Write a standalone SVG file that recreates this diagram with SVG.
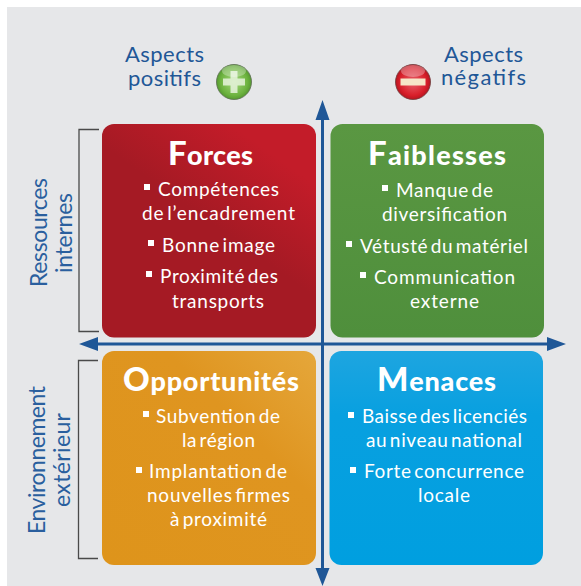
<svg xmlns="http://www.w3.org/2000/svg" width="581" height="586" viewBox="0 0 581 586">
<style>
.ax{font-family:"Lato","Liberation Sans",sans-serif;fill:#1f5797;font-size:22px}
.sd{font-family:"Lato","Liberation Sans",sans-serif;fill:#2a5f9e;font-size:23px}
.t{font-family:"Lato","Liberation Sans",sans-serif;fill:#fff;font-weight:900;font-size:27px}
.c{font-size:33px}
.b{font-family:"Lato","Liberation Sans",sans-serif;fill:#fff;font-size:19px;word-spacing:-3px}
.bu{fill:#fff}
.ln{fill:none;stroke:#1f5797;stroke-width:3}
.br{fill:none;stroke:#4a4a4a;stroke-width:1.300}
.gl{fill:#fff;opacity:.3}
</style>
<defs>
<linearGradient id="r" x1=".35" y1=".35" x2=".6" y2="0"><stop offset="0" stop-color="#a51a24"/><stop offset="1" stop-color="#c31c29"/></linearGradient>
<linearGradient id="g" x1="0" y1="0" x2="0" y2="1"><stop offset="0" stop-color="#5a9742"/><stop offset="1" stop-color="#4f8f3c"/></linearGradient>
<linearGradient id="o" x1="1" y1="0" x2="0" y2="1"><stop offset="0" stop-color="#e5a73b"/><stop offset=".35" stop-color="#df9520"/><stop offset="1" stop-color="#de941b"/></linearGradient>
<linearGradient id="u" x1="0" y1="0" x2="0" y2="1"><stop offset="0" stop-color="#1ea5e0"/><stop offset=".3" stop-color="#08a0e0"/><stop offset="1" stop-color="#009fe0"/></linearGradient>
<radialGradient id="pg" cx=".5" cy=".5" r=".55"><stop offset="0" stop-color="#a6d880"/><stop offset=".7" stop-color="#6db33f"/><stop offset="1" stop-color="#4c8f2a"/></radialGradient>
<radialGradient id="mg" cx=".5" cy=".5" r=".55"><stop offset="0" stop-color="#e8606a"/><stop offset=".7" stop-color="#d81f2a"/><stop offset="1" stop-color="#a8121c"/></radialGradient>
</defs>
<rect x="0" y="0" width="581" height="586" fill="#fff"/>
<rect x="7" y="7" width="574" height="579" fill="#e6e7e9"/>

<g id="connectors">
<path class="ln" d="M322.500 118V568"/>
<path class="ln" d="M97 344H548"/>
<path fill="#1f5797" d="M322.500 100L329.500 120H315.500ZM322.500 586L315.500 568H329.500ZM79 344L98 337V351ZM566 344L547 337V351Z"/>
<path class="br" d="M99 129.500H79V331.500H99"/>
<path class="br" d="M98 360.500H78.500V558.500H98"/>
</g>

<g id="aspects-positifs">
<text class="ax" x="125" y="62" textLength="79">Aspects</text>
<text class="ax" x="128" y="86" textLength="73">positifs</text>
<circle cx="234" cy="82" r="17.500" fill="url(#pg)" stroke="#5a6b50" stroke-width=".8"/>
<path fill="#e6f3dc" opacity=".85" d="M230.500 71h7v7.500h7.500v7h-7.500v7.500h-7v-7.500h-7.500v-7h7.500z"/>
<ellipse class="gl" cx="234" cy="71" rx="12" ry="6"/>
</g>
<g id="aspects-negatifs">
<text class="ax" x="444" y="62" textLength="79">Aspects</text>
<text class="ax" x="441" y="85" textLength="85">négatifs</text>
<circle cx="413" cy="82" r="17.500" fill="url(#mg)" stroke="#6b3a3a" stroke-width=".8"/>
<rect x="400.500" y="78.500" width="25" height="7" fill="#f6e6c8"/>
<ellipse class="gl" cx="413" cy="71" rx="12" ry="6"/>
</g>

<g id="ressources-internes">
<text class="sd" transform="translate(47 287) rotate(-90)" textLength="109">Ressources</text>
<text class="sd" transform="translate(72 273) rotate(-90)" textLength="80">internes</text>
</g>
<g id="environnement-exterieur">
<text class="sd" transform="translate(45 534) rotate(-90)" textLength="148">Environnement</text>
<text class="sd" transform="translate(70 507) rotate(-90)" textLength="94">extérieur</text>
</g>

<g id="forces">
<rect x="102" y="124" width="214" height="213.500" rx="12" fill="url(#r)"/>
<text class="t" x="168" y="165" textLength="85"><tspan class="c">F</tspan>orces</text>
<rect class="bu" x="144" y="184" width="6" height="6"/>
<text class="b" x="158" y="196" textLength="121">Compétences</text>
<text class="b" x="142" y="220" textLength="153">de l’encadrement</text>
<rect class="bu" x="148" y="240" width="6" height="6"/>
<text class="b" x="162" y="252" textLength="113">Bonne image</text>
<rect class="bu" x="146" y="271" width="6" height="6"/>
<text class="b" x="160" y="283" textLength="118">Proximité des</text>
<text class="b" x="172" y="308" textLength="92">transports</text>
</g>

<g id="faiblesses">
<rect x="330.500" y="124" width="213.500" height="213.500" rx="12" fill="url(#g)"/>
<text class="t" x="368" y="165" textLength="138"><tspan class="c">F</tspan>aiblesses</text>
<rect class="bu" x="382" y="185" width="6" height="6"/>
<text class="b" x="396" y="197" textLength="97">Manque de</text>
<text class="b" x="382" y="221" textLength="125">diversification</text>
<rect class="bu" x="346" y="241" width="6" height="6"/>
<text class="b" x="360" y="253" textLength="168">Vétusté du matériel</text>
<rect class="bu" x="360" y="272" width="6" height="6"/>
<text class="b" x="374" y="284" textLength="141">Communication</text>
<text class="b" x="410" y="308" textLength="69">externe</text>
</g>

<g id="opportunites">
<rect x="102" y="351" width="214" height="214" rx="12" fill="url(#o)"/>
<text class="t" x="123" y="391" textLength="176"><tspan class="c">O</tspan>pportunités</text>
<rect class="bu" x="143" y="411" width="6" height="6"/>
<text class="b" x="156" y="423" textLength="124">Subvention de</text>
<text class="b" x="182" y="447" textLength="73">la région</text>
<rect class="bu" x="136" y="467" width="6" height="6"/>
<text class="b" x="149" y="478" textLength="138">Implantation de</text>
<text class="b" x="147" y="502" textLength="143">nouvelles firmes</text>
<text class="b" x="170" y="526" textLength="97">à proximité</text>
</g>

<g id="menaces">
<rect x="329.500" y="351" width="213.500" height="214" rx="12" fill="url(#u)"/>
<text class="t" x="377" y="391" textLength="119"><tspan class="c">M</tspan>enaces</text>
<rect class="bu" x="348" y="412" width="6" height="6"/>
<text class="b" x="362" y="423" textLength="165">Baisse des licenciés</text>
<text class="b" x="366" y="447" textLength="156">au niveau national</text>
<rect class="bu" x="350" y="467" width="6" height="6"/>
<text class="b" x="364" y="478" textLength="160">Forte concurrence</text>
<text class="b" x="418" y="502" textLength="52">locale</text>
</g>
</svg>
